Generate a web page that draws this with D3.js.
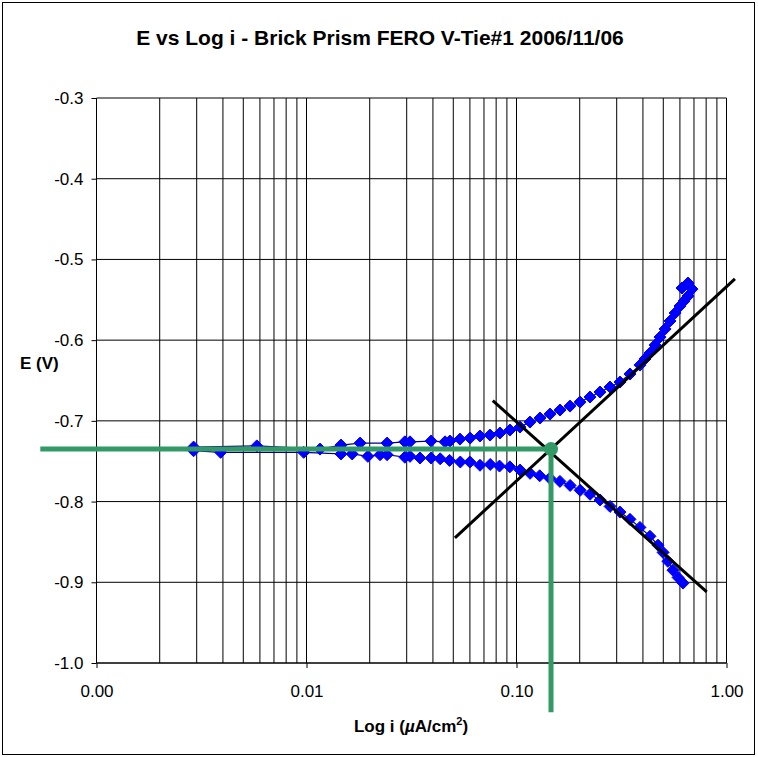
<!DOCTYPE html>
<meta charset="utf-8">
<style>
    body { margin: 0; background: #fff; }
    svg text { font-family: Arial, "Liberation Sans", sans-serif; }
    .grid line { stroke: #000; stroke-width: 1; }
    .axis path, .axis line { stroke: #000; }
    .axis text { font-size: 17px; fill: #000; }
</style>
<svg width="758" height="757"></svg>
<script src="https://cdnjs.cloudflare.com/ajax/libs/d3/7.8.5/d3.min.js"></script>
<script>
    // cathodic branch, scan order: high current -> near Ecorr
    var cathodicI = [0.621, 0.588, 0.556, 0.526, 0.499, 0.472, 0.432, 0.387, 0.347, 0.311,
        0.279, 0.250, 0.224, 0.201, 0.180, 0.161, 0.144, 0.129, 0.116, 0.104,
        0.093, 0.083, 0.075, 0.067, 0.060, 0.054, 0.048, 0.0433, 0.0392, 0.0347,
        0.0311, 0.0294, 0.0242, 0.0224, 0.0196, 0.0165, 0.0146, 0.0097, 0.0039, 0.0029];
    var cathodicE = [-0.901, -0.894, -0.885, -0.874, -0.863, -0.854, -0.843, -0.832, -0.822, -0.813,
        -0.806, -0.798, -0.791, -0.786, -0.780, -0.775, -0.771, -0.768, -0.765, -0.761,
        -0.757, -0.756, -0.754, -0.755, -0.751, -0.751, -0.749, -0.747, -0.746, -0.746,
        -0.744, -0.745, -0.742, -0.742, -0.744, -0.741, -0.741, -0.739, -0.739, -0.737];

    // anodic branch, near Ecorr -> high current
    var anodicI = [0.0029, 0.0058, 0.0116, 0.0146, 0.0180, 0.0242, 0.0294, 0.0311, 0.0392, 0.0457,
        0.0482, 0.0538, 0.0601, 0.0670, 0.0748, 0.0834, 0.0931, 0.1039, 0.1159, 0.1294,
        0.1444, 0.1611, 0.1798, 0.2006, 0.2239, 0.2498, 0.2788, 0.3111, 0.3471, 0.3874,
        0.409, 0.4323, 0.457, 0.4824, 0.510, 0.5383, 0.569, 0.6007, 0.628, 0.6555,
        0.6853, 0.6555, 0.614];
    var anodicE = [-0.7325, -0.731, -0.735, -0.730, -0.7275, -0.7275, -0.726, -0.726, -0.725, -0.726,
        -0.725, -0.7226, -0.7213, -0.7188, -0.7176, -0.7151, -0.7114, -0.7077, -0.7015, -0.6965,
        -0.6916, -0.6866, -0.6817, -0.6767, -0.6705, -0.6643, -0.6581, -0.6519, -0.6420, -0.6309,
        -0.6234, -0.6160, -0.6061, -0.5962, -0.5862, -0.5763, -0.5664, -0.5577, -0.5515, -0.5454,
        -0.5367, -0.5292, -0.5354];

    // Tafel fit lines
    var anodicTafelI = [0.0509, 1.097];
    var anodicTafelE = [-0.845, -0.524];
    var cathodicTafelI = [0.0771, 0.805];
    var cathodicTafelE = [-0.675, -0.912];

    // corrosion point
    var icorr = 0.146;
    var ecorr = -0.735;
    var ecorrLineStartI = 0.00054;
    var icorrLineEndE = -1.061;

    var xTicks = [0.001, 0.01, 0.1, 1];
    var yTicks = [-1.0, -0.9, -0.8, -0.7, -0.6, -0.5, -0.4, -0.3];

    var svg = d3.select("svg");

    var x = d3.scaleLog().domain([0.001, 1]).range([96.5, 726.5]);
    var y = d3.scaleLinear().domain([-1.0, -0.3]).range([663, 98]);

    // outer frame
    svg.append("rect")
        .attr("x", 2.5).attr("y", 2.5)
        .attr("width", 752).attr("height", 752)
        .attr("fill", "#fff").attr("stroke", "#000");

    svg.append("text")
        .attr("x", 380).attr("y", 45)
        .attr("text-anchor", "middle")
        .style("font-size", "21px").style("font-weight", "bold")
        .text("E vs Log i - Brick Prism FERO V-Tie#1 2006/11/06");

    // grid
    var grid = svg.append("g").attr("class", "grid");
    grid.selectAll("line.v")
        .data(x.ticks())
        .enter().append("line")
        .attr("class", "v")
        .attr("x1", d => x(d)).attr("x2", d => x(d))
        .attr("y1", y(-0.3)).attr("y2", y(-1.0));
    grid.selectAll("line.h")
        .data(yTicks)
        .enter().append("line")
        .attr("class", "h")
        .attr("x1", x(0.001)).attr("x2", x(1))
        .attr("y1", d => y(d)).attr("y2", d => y(d));

    // axes
    svg.append("g")
        .attr("class", "axis")
        .attr("transform", "translate(0," + y(-1.0) + ")")
        .call(d3.axisBottom(x).tickValues(xTicks).tickSize(5).tickPadding(17)
            .tickFormat(d => d.toFixed(2)))
        .call(g => g.select(".domain").attr("d", "M" + x(0.001) + ",0H" + x(1)));

    svg.append("g")
        .attr("class", "axis")
        .attr("transform", "translate(" + x(0.001) + ",0)")
        .call(d3.axisLeft(y).tickValues(yTicks).tickSize(5).tickPadding(8)
            .tickFormat(d => d.toFixed(1)))
        .call(g => g.select(".domain").attr("d", "M0," + y(-0.3) + "V" + y(-1.0)));

    svg.append("text")
        .attr("x", 20).attr("y", 369)
        .style("font-size", "17px").style("font-weight", "bold")
        .text("E (V)");

    var xl = svg.append("text")
        .attr("x", 411).attr("y", 732)
        .attr("text-anchor", "middle")
        .style("font-size", "17px").style("font-weight", "bold");
    xl.append("tspan").text("Log i (");
    xl.append("tspan").style("font-style", "italic").text("\u00b5");
    xl.append("tspan").text("A/cm");
    xl.append("tspan").attr("dy", -7).style("font-size", "11px").text("2");
    xl.append("tspan").attr("dy", 7).text(")");

    // data
    var scan = cathodicI.map((v, k) => ({ i: v, e: cathodicE[k] }))
        .concat(anodicI.map((v, k) => ({ i: v, e: anodicE[k] })));

    var line = d3.line().x(d => x(d.i)).y(d => y(d.e));

    svg.append("path")
        .datum(scan)
        .attr("d", line)
        .attr("fill", "none")
        .attr("stroke", "#000080")
        .attr("stroke-width", 1.2);

    svg.append("g").selectAll("path")
        .data(scan)
        .enter().append("path")
        .attr("transform", d => "translate(" + x(d.i) + "," + y(d.e) + ")")
        .attr("d", "M0,-6L6,0L0,6L-6,0Z")
        .attr("fill", "#0000ff")
        .attr("stroke", "#0000ff")
        .attr("stroke-width", 1);

    // Tafel lines
    [[anodicTafelI, anodicTafelE], [cathodicTafelI, cathodicTafelE]].forEach(function (t) {
        svg.append("path")
            .datum(t[0].map((v, k) => ({ i: v, e: t[1][k] })))
            .attr("d", line)
            .attr("fill", "none")
            .attr("stroke", "#000")
            .attr("stroke-width", 3);
    });

    // Ecorr / icorr markers
    var green = "#339966";
    svg.append("path")
        .datum([{ i: ecorrLineStartI, e: ecorr }, { i: icorr, e: ecorr }])
        .attr("d", line)
        .attr("stroke", green).attr("stroke-width", 5).attr("fill", "none");
    svg.append("path")
        .datum([{ i: icorr, e: ecorr }, { i: icorr, e: icorrLineEndE }])
        .attr("d", line)
        .attr("stroke", green).attr("stroke-width", 5).attr("fill", "none");
    svg.append("circle")
        .attr("cx", x(icorr)).attr("cy", y(ecorr))
        .attr("r", 7)
        .attr("fill", green);
</script>
